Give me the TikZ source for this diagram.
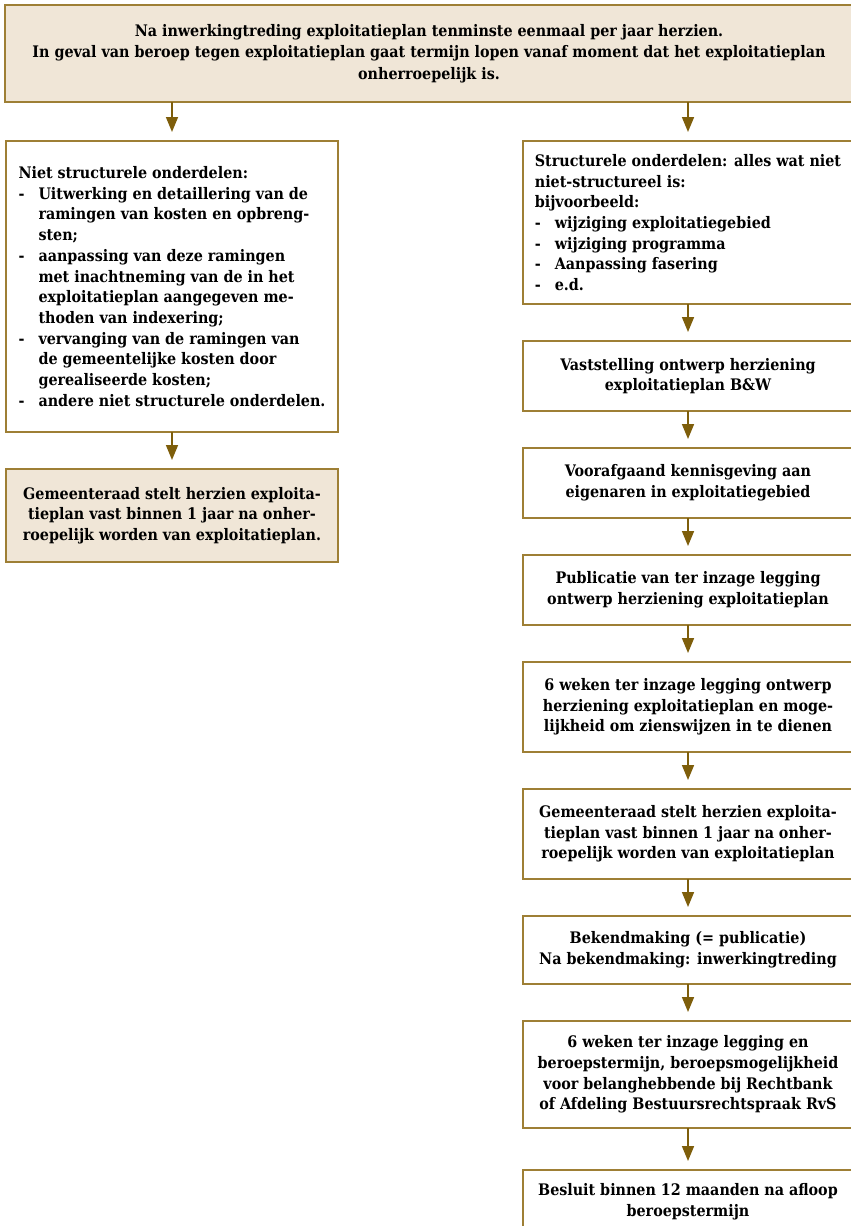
\documentclass[tikz,border=0pt]{standalone}
\usepackage{fontspec}
\setmainfont{DejaVu Serif Condensed}
\usepackage{tikz}
\usetikzlibrary{
  arrows.meta,
  positioning
}
\definecolor{plGold}{HTML}{9E7F35}
\definecolor{plArrow}{HTML}{7E5E0B}
\definecolor{plBeige}{HTML}{F0E6D7}
\newcommand{\itm}{\makebox[20pt][l]{-}}
\newcommand{\ind}{\hspace*{20pt}}
\tikzset{
  plnode/.style={
    draw=plGold, line width=1.6pt, fill=white, inner sep=0pt, outer sep=0pt,
    font=\fontsize{15.9pt}{20.7pt}\selectfont\bfseries, align=center
  },
  stapbox/.style={plnode, minimum width=330pt},
  listbox/.style={stapbox, align=left},
  raadbox/.style={plnode, fill=plBeige},
  flow/.style={-{Triangle[length=15pt, width=12pt]}, line width=1.6pt, plArrow, shorten >=9pt}
}

\begin{document}
\begin{tikzpicture}[node distance=37pt]
  \useasboundingbox (0pt,0pt) rectangle (851pt,-1226pt);
  \node[raadbox, minimum width=848pt, minimum height=97pt, anchor=north west,
    font=\fontsize{15.9pt}{21.5pt}\selectfont\bfseries] (herzien) at (5pt,-5pt)
    {Na inwerkingtreding exploitatieplan tenminste eenmaal per jaar herzien.\\
     In geval van beroep tegen exploitatieplan gaat termijn lopen vanaf moment dat het exploitatieplan\\
     onherroepelijk is.};

  % linker kolom: niet structureel
  \node[listbox, minimum width=332pt, minimum height=291pt, below right=39pt and 1pt of herzien.south west] (nietstruct)
    {Niet structurele onderdelen:\\
     \itm Uitwerking en detaillering van de\\
     \ind ramingen van kosten en opbreng-\\
     \ind sten;\\
     \itm aanpassing van deze ramingen\\
     \ind met inachtneming van de in het\\
     \ind exploitatieplan aangegeven me-\\
     \ind thoden van indexering;\\
     \itm vervanging van de ramingen van\\
     \ind de gemeentelijke kosten door\\
     \ind gerealiseerde kosten;\\
     \itm andere niet structurele onderdelen.};
  \node[raadbox, minimum width=332pt, minimum height=93pt, below=of nietstruct] (raadlinks)
    {Gemeenteraad stelt herzien exploita-\\tieplan vast binnen 1 jaar na onher-\\roepelijk worden van exploitatieplan.};

  % rechter kolom: structureel
  \node[listbox, minimum height=163pt, below right=39pt and 518pt of herzien.south west] (struct)
    {Structurele onderdelen: alles wat niet\\
     niet-structureel is:\\
     bijvoorbeeld:\\
     \itm wijziging exploitatiegebied\\
     \itm wijziging programma\\
     \itm Aanpassing fasering\\
     \itm e.d.};
  \node[stapbox, minimum height=70pt, below=of struct] (ontwerp)
    {Vaststelling ontwerp herziening\\exploitatieplan B\&W};
  \node[stapbox, minimum height=70pt, below=of ontwerp] (kennis)
    {Voorafgaand kennisgeving aan\\eigenaren in exploitatiegebied};
  \node[stapbox, minimum height=70pt, below=of kennis] (publicatie)
    {Publicatie van ter inzage legging\\ontwerp herziening exploitatieplan};
  \node[stapbox, minimum height=90pt, below=of publicatie] (inzage)
    {6 weken ter inzage legging ontwerp\\herziening exploitatieplan en moge-\\lijkheid om zienswijzen in te dienen};
  \node[stapbox, minimum height=90pt, below=of inzage] (raad)
    {Gemeenteraad stelt herzien exploita-\\tieplan vast binnen 1 jaar na onher-\\roepelijk worden van exploitatieplan};
  \node[stapbox, minimum height=68pt, below=of raad] (bekend)
    {Bekendmaking (= publicatie)\\Na bekendmaking: inwerkingtreding};
  \node[stapbox, minimum height=107pt, below=of bekend] (beroep)
    {6 weken ter inzage legging en\\beroepstermijn, beroepsmogelijkheid\\voor belanghebbende bij Rechtbank\\of Afdeling Bestuursrechtspraak RvS};
  \node[stapbox, minimum height=63pt, below=42pt of beroep] (besluit)
    {Besluit binnen 12 maanden na afloop\\beroepstermijn};

  % pijlen
  \draw[flow] (herzien.south -| nietstruct.north) -- (nietstruct.north);
  \draw[flow] (herzien.south -| struct.north) -- (struct.north);
  \draw[flow] (nietstruct) -- (raadlinks);
  \foreach \van/\naar in {struct/ontwerp, ontwerp/kennis, kennis/publicatie, publicatie/inzage,
                          inzage/raad, raad/bekend, bekend/beroep, beroep/besluit}
    \draw[flow] (\van) -- (\naar);
\end{tikzpicture}
\end{document}
